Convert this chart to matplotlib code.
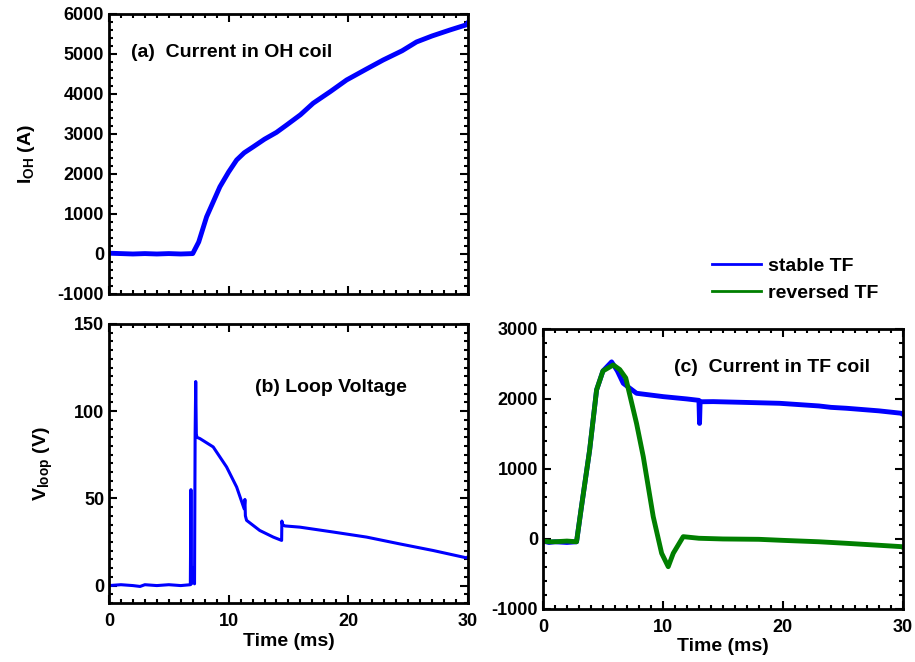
import matplotlib
matplotlib.use('Agg')
import matplotlib.pyplot as plt
from matplotlib.ticker import MultipleLocator
from matplotlib.lines import Line2D

plt.rcParams['font.family'] = ['Liberation Sans', 'DejaVu Sans']
plt.rcParams['font.weight'] = 'bold'
plt.rcParams['mathtext.fontset'] = 'custom'
plt.rcParams['mathtext.bf'] = 'Liberation Sans:bold'
plt.rcParams['mathtext.rm'] = 'Liberation Sans:bold'
plt.rcParams['mathtext.default'] = 'bf'
plt.rcParams['axes.unicode_minus'] = False

# (a) current in OH coil, time in ms, current in A
t_oh = [0.0, 1.0, 2.0, 3.0, 4.0, 5.0, 6.0, 7.0, 7.5, 8.16, 9.27, 10.0,
        10.67, 11.3, 12.06, 13.0, 14.0, 14.85, 16.0, 17.07, 18.5,
        19.86, 21.5, 22.92, 24.5, 25.7, 27.0, 28.5, 29.88, 30.0]
i_oh = [20, 10, 0, 10, 0, 10, 0, 10, 300, 930, 1680, 2050,
        2350, 2530, 2680, 2870, 3040, 3225, 3480, 3770, 4060,
        4350, 4620, 4850, 5080, 5300, 5450, 5600, 5730, 5780]

# (b) loop voltage, V
t_loop = [0.0, 1.0, 2.0, 2.6, 3.0, 4.0, 5.0, 6.0, 6.8, 6.85, 6.9, 7.0, 7.1,
          7.15, 7.2, 7.25, 7.3, 7.35, 7.6, 8.71, 9.83, 10.67, 11.3, 11.36,
          11.4, 11.5, 12.6, 13.73, 14.43, 14.45, 14.5, 14.7, 15.96, 18.74,
          21.53, 24.3, 27.1, 29.88, 30.0]
v_loop = [0.0, 0.5, 0.0, -0.5, 0.5, 0.0, 0.5, 0.0, 0.5, 55, 1.0, 10, 2.0,
          1.0, 87, 117, 87, 85, 84.3, 79.5, 68, 56.5, 44, 49.4,
          40, 37.4, 31.6, 27.8, 25.9, 37, 35, 34.2, 33.5, 30.7,
          27.8, 23.9, 20.1, 15.9, 16.5]

# (c) current in TF coil, A
t_tf = [0.0, 0.5, 1.0, 2.0, 2.8, 3.2, 3.89, 4.47, 5.0, 5.72, 6.2, 6.69,
        7.8, 10.03, 12.0, 13.0, 13.05, 13.1, 14.19, 17.0, 19.72, 23.0,
        24.0, 25.3, 28.0, 29.9, 30.0]
i_stable = [-30, -50, -40, -50, -40, 450, 1270, 2130, 2400, 2530, 2400, 2224,
            2081, 2033, 2000, 1980, 1650, 1960, 1962, 1950, 1938, 1900,
            1880, 1867, 1830, 1795, 1780]
t_rev = [0.0, 0.5, 1.0, 2.0, 2.8, 3.2, 3.89, 4.47, 5.0, 5.86, 6.4,
         6.9, 7.8, 8.36, 9.19, 9.89, 10.44, 10.86, 11.69, 13.0, 15.0,
         18.0, 20.0, 23.0, 25.3, 28.0, 29.9, 30.0]
i_reversed = [-30, -40, -40, -30, -40, 450, 1270, 2130, 2400, 2486, 2420,
              2300, 1650, 1176, 319, -204, -396, -204, 33, 10, 0,
              -5, -20, -40, -62, -90, -110, -120]

blue = '#0000ff'
green = '#007f00'

fig = plt.figure(figsize=(9.15, 6.62), dpi=100)
ax_a = fig.add_axes([0.1191, 0.5559, 0.3923, 0.4230])
ax_b = fig.add_axes([0.1191, 0.0891, 0.3923, 0.4215])
ax_c = fig.add_axes([0.5934, 0.0801, 0.3934, 0.4230])


def style(ax, ymaj, ymin):
    ax.set_xlim(0, 30)
    ax.xaxis.set_major_locator(MultipleLocator(10))
    ax.xaxis.set_minor_locator(MultipleLocator(1))
    ax.yaxis.set_major_locator(MultipleLocator(ymaj))
    ax.yaxis.set_minor_locator(MultipleLocator(ymin))
    ax.tick_params(which='both', direction='in', top=True, right=True,
                   labelsize=13, width=1.5)
    ax.tick_params(which='major', length=6)
    ax.tick_params(which='minor', length=3)
    ax.tick_params(axis='x', pad=7)
    for s in ax.spines.values():
        s.set_linewidth(2)
    for lab in ax.get_xticklabels() + ax.get_yticklabels():
        lab.set_fontweight('bold')


ax_a.plot(t_oh, i_oh, color=blue, lw=3.5)
ax_a.set_ylim(-1000, 6000)
style(ax_a, 1000, 200)
ax_a.tick_params(labelbottom=False)
ax_a.set_ylabel(r'$I_{OH}$ (A)', fontsize=14, fontweight='bold')
ax_a.yaxis.set_label_coords(-0.2, 0.5)
ax_a.text(0.061, 0.861, '(a)  Current in OH coil', transform=ax_a.transAxes,
          fontsize=14, fontweight='bold', va='center')

ax_b.plot(t_loop, v_loop, color=blue, lw=2.2)
ax_b.set_ylim(-10, 150)
style(ax_b, 50, 5)
ax_b.set_ylabel(r'$V_{loop}$ (V)', fontsize=14, fontweight='bold')
ax_b.yaxis.set_label_coords(-0.15, 0.5)
ax_b.set_xlabel('Time (ms)', fontsize=14, fontweight='bold', labelpad=2)
ax_b.text(0.407, 0.771, '(b) Loop Voltage', transform=ax_b.transAxes,
          fontsize=14, fontweight='bold', va='center')

ax_c.plot(t_tf, i_stable, color=blue, lw=3.5)
ax_c.plot(t_rev, i_reversed, color=green, lw=3.5)
ax_c.set_ylim(-1000, 3000)
style(ax_c, 1000, 200)
ax_c.set_xlabel('Time (ms)', fontsize=14, fontweight='bold', labelpad=2)
ax_c.text(0.364, 0.864, '(c)  Current in TF coil', transform=ax_c.transAxes,
          fontsize=14, fontweight='bold', va='center')

handles = [Line2D([], [], color=blue, lw=2), Line2D([], [], color=green, lw=2)]
fig.legend(handles, ['stable TF', 'reversed TF'], loc='upper left',
           bbox_to_anchor=(0.768, 0.626), frameon=False, handlelength=2.5,
           handletextpad=0.35, labelspacing=0.5, borderpad=0,
           prop={'size': 14, 'weight': 'bold'})

fig.savefig('out.png', dpi=100, facecolor='w')
